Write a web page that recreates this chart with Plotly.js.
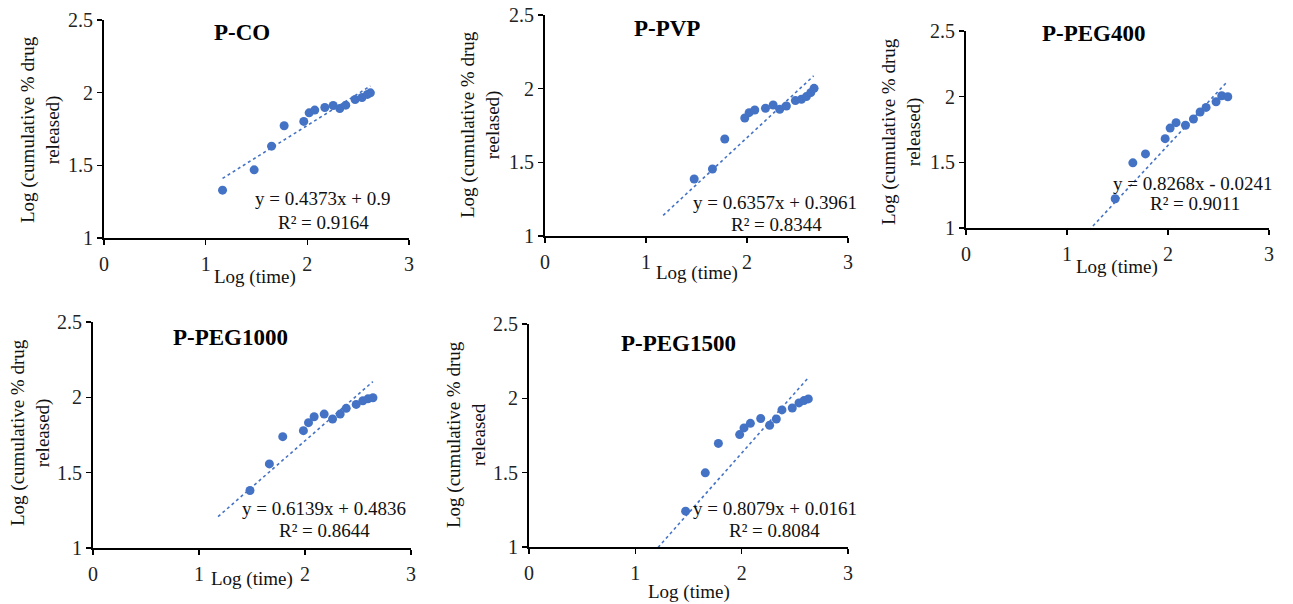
<!DOCTYPE html>
<html>
<head>
<meta charset="utf-8">
<script src="https://cdn.plot.ly/plotly-3.0.1.min.js"></script>
<style>html,body{margin:0;padding:0;background:#fff;}#chart{width:1293px;height:604px;}</style>
</head>
<body>
<div id="chart"></div>
<script>
// ---- Data ----
const panelTitles = ["P-CO", "P-PVP", "P-PEG400", "P-PEG1000", "P-PEG1500"];
const yTitleLine2 = ["released)", "reelased)", "released)", "released)", "released"];
const eqTexts = ["y = 0.4373x + 0.9", "y = 0.6357x + 0.3961", "y = 0.8268x - 0.0241", "y = 0.6139x + 0.4836", "y = 0.8079x + 0.0161"];
const r2Texts = ["R² = 0.9164", "R² = 0.8344", "R² = 0.9011", "R² = 0.8644", "R² = 0.8084"];
const slopes = [0.4373, 0.6357, 0.8268, 0.6139, 0.8079];
const intercepts = [0.9, 0.3961, -0.0241, 0.4836, 0.0161];
const trendXRange = [[1.166, 2.62], [1.17, 2.66], [1.176, 2.59], [1.18, 2.64], [1.176, 2.63]];

const xCO = [1.166, 1.477, 1.648, 1.772, 1.965, 2.018, 2.073, 2.172, 2.254, 2.319, 2.378, 2.470, 2.538, 2.591, 2.620];
const yCO = [1.329, 1.469, 1.632, 1.772, 1.802, 1.861, 1.880, 1.898, 1.912, 1.891, 1.914, 1.953, 1.967, 1.988, 1.999];

const xPVP = [1.477, 1.658, 1.780, 1.978, 2.021, 2.077, 2.183, 2.259, 2.324, 2.390, 2.479, 2.539, 2.588, 2.631, 2.664];
const yPVP = [1.387, 1.455, 1.658, 1.801, 1.837, 1.855, 1.867, 1.889, 1.860, 1.882, 1.919, 1.928, 1.946, 1.973, 2.002];

const xPEG400 = [1.477, 1.652, 1.777, 1.972, 2.021, 2.080, 2.173, 2.252, 2.318, 2.377, 2.476, 2.532, 2.592];
const yPEG400 = [1.223, 1.496, 1.564, 1.680, 1.761, 1.802, 1.782, 1.830, 1.883, 1.918, 1.961, 2.007, 1.999];

const xPEG1000 = [1.481, 1.664, 1.790, 1.985, 2.033, 2.086, 2.181, 2.260, 2.332, 2.389, 2.483, 2.546, 2.594, 2.641];
const yPEG1000 = [1.382, 1.558, 1.739, 1.779, 1.832, 1.871, 1.889, 1.856, 1.889, 1.927, 1.953, 1.977, 1.990, 1.997];

const xPEG1500 = [1.473, 1.658, 1.781, 1.981, 2.022, 2.082, 2.179, 2.263, 2.326, 2.379, 2.476, 2.539, 2.586, 2.627];
const yPEG1500 = [1.241, 1.499, 1.697, 1.756, 1.801, 1.832, 1.864, 1.819, 1.861, 1.922, 1.935, 1.969, 1.985, 1.996];

const xTickVals = [0, 1, 2, 3];
const xTickText = ["0", "1", "2", "3"];
const yTickVals = [1, 1.5, 2, 2.5];
const yTickText = ["1", "1.5", "2", "2.5"];

const seriesX = [xCO, xPVP, xPEG400, xPEG1000, xPEG1500];
const seriesY = [yCO, yPVP, yPEG400, yPEG1000, yPEG1500];

// ---- Layout geometry (pixels) ----
const W = 1293, H = 604;
const plotBoxes = [ // [left, right, top, bottom]
  [104, 409, 20, 238],
  [545, 848, 15, 236],
  [966, 1269, 31, 228],
  [93, 411, 322, 548],
  [529, 848, 324, 547]
];
const titlePos = [[242, 32], [667, 28], [1094, 33], [230, 337], [678, 343]];
const yTitlePos = [[40, 130], [480, 125], [901, 132], [30, 433], [466, 434]];
const xTitlePos = [[255, 277], [697, 273], [1117, 267], [252, 579], [689, 592]];
const eqPos = [[322, 199], [775, 202], [1193, 183], [324, 508], [775, 508]];
const r2Pos = [[323, 222], [776, 224], [1195, 204], [324, 530], [775, 530]];

const FONT = "Liberation Serif";
const BLUE = "#4472C4";
const px = v => v / W;
const py = v => 1 - v / H;

const traces = [];
const layout = {
  width: W, height: H,
  margin: {l: 0, r: 0, t: 0, b: 0, pad: 0},
  paper_bgcolor: "#fff", plot_bgcolor: "#fff",
  showlegend: false,
  font: {family: FONT, size: 19, color: "#000"},
  annotations: []
};

for (let i = 0; i < 5; i++) {
  const sfx = i === 0 ? "" : String(i + 1);
  const b = plotBoxes[i];
  layout["xaxis" + sfx] = {
    domain: [px(b[0]), px(b[1])],
    anchor: "y" + sfx,
    range: [0, 3], fixedrange: true,
    showgrid: false, zeroline: false,
    showline: true, linecolor: "#000", linewidth: 2,
    ticks: "outside", ticklen: 5, tickwidth: 1.5, tickcolor: "#000",
    tickvals: xTickVals, ticktext: xTickText,
    tickfont: {family: FONT, size: 20, color: "#222"},
    ticklabelstandoff: 2
  };
  layout["yaxis" + sfx] = {
    domain: [py(b[3]), py(b[2])],
    anchor: "x" + sfx,
    range: [1, 2.5], fixedrange: true,
    showgrid: false, zeroline: false,
    showline: true, linecolor: "#000", linewidth: 2,
    ticks: "outside", ticklen: 5, tickwidth: 1.5, tickcolor: "#000",
    tickvals: yTickVals, ticktext: yTickText,
    tickfont: {family: FONT, size: 20, color: "#222"}
  };

  traces.push({
    type: "scatter", mode: "markers",
    x: seriesX[i], y: seriesY[i],
    xaxis: "x" + sfx, yaxis: "y" + sfx,
    marker: {color: BLUE, size: 9, line: {width: 0}},
    cliponaxis: false, hoverinfo: "skip"
  });
  const tx = trendXRange[i];
  traces.push({
    type: "scatter", mode: "lines",
    x: tx, y: tx.map(v => slopes[i] * v + intercepts[i]),
    xaxis: "x" + sfx, yaxis: "y" + sfx,
    line: {color: BLUE, width: 1.6, dash: "dot"},
    hoverinfo: "skip"
  });

  const ann = (pos, text, extra) => Object.assign({
    xref: "paper", yref: "paper", x: px(pos[0]), y: py(pos[1]),
    xanchor: "center", yanchor: "middle", showarrow: false, text: text,
    font: {family: FONT, size: 19, color: "#111"}
  }, extra || {});

  layout.annotations.push(ann(titlePos[i], "<b>" + panelTitles[i] + "</b>", {font: {family: FONT, size: 23, color: "#000"}}));
  layout.annotations.push(ann(yTitlePos[i], "Log (cumulative % drug<br>" + yTitleLine2[i], {textangle: -90}));
  layout.annotations.push(ann(xTitlePos[i], "Log (time)"));
  layout.annotations.push(ann(eqPos[i], eqTexts[i]));
  layout.annotations.push(ann(r2Pos[i], r2Texts[i]));
}

Plotly.newPlot("chart", traces, layout, {displayModeBar: false, staticPlot: true});
</script>
</body>
</html>
